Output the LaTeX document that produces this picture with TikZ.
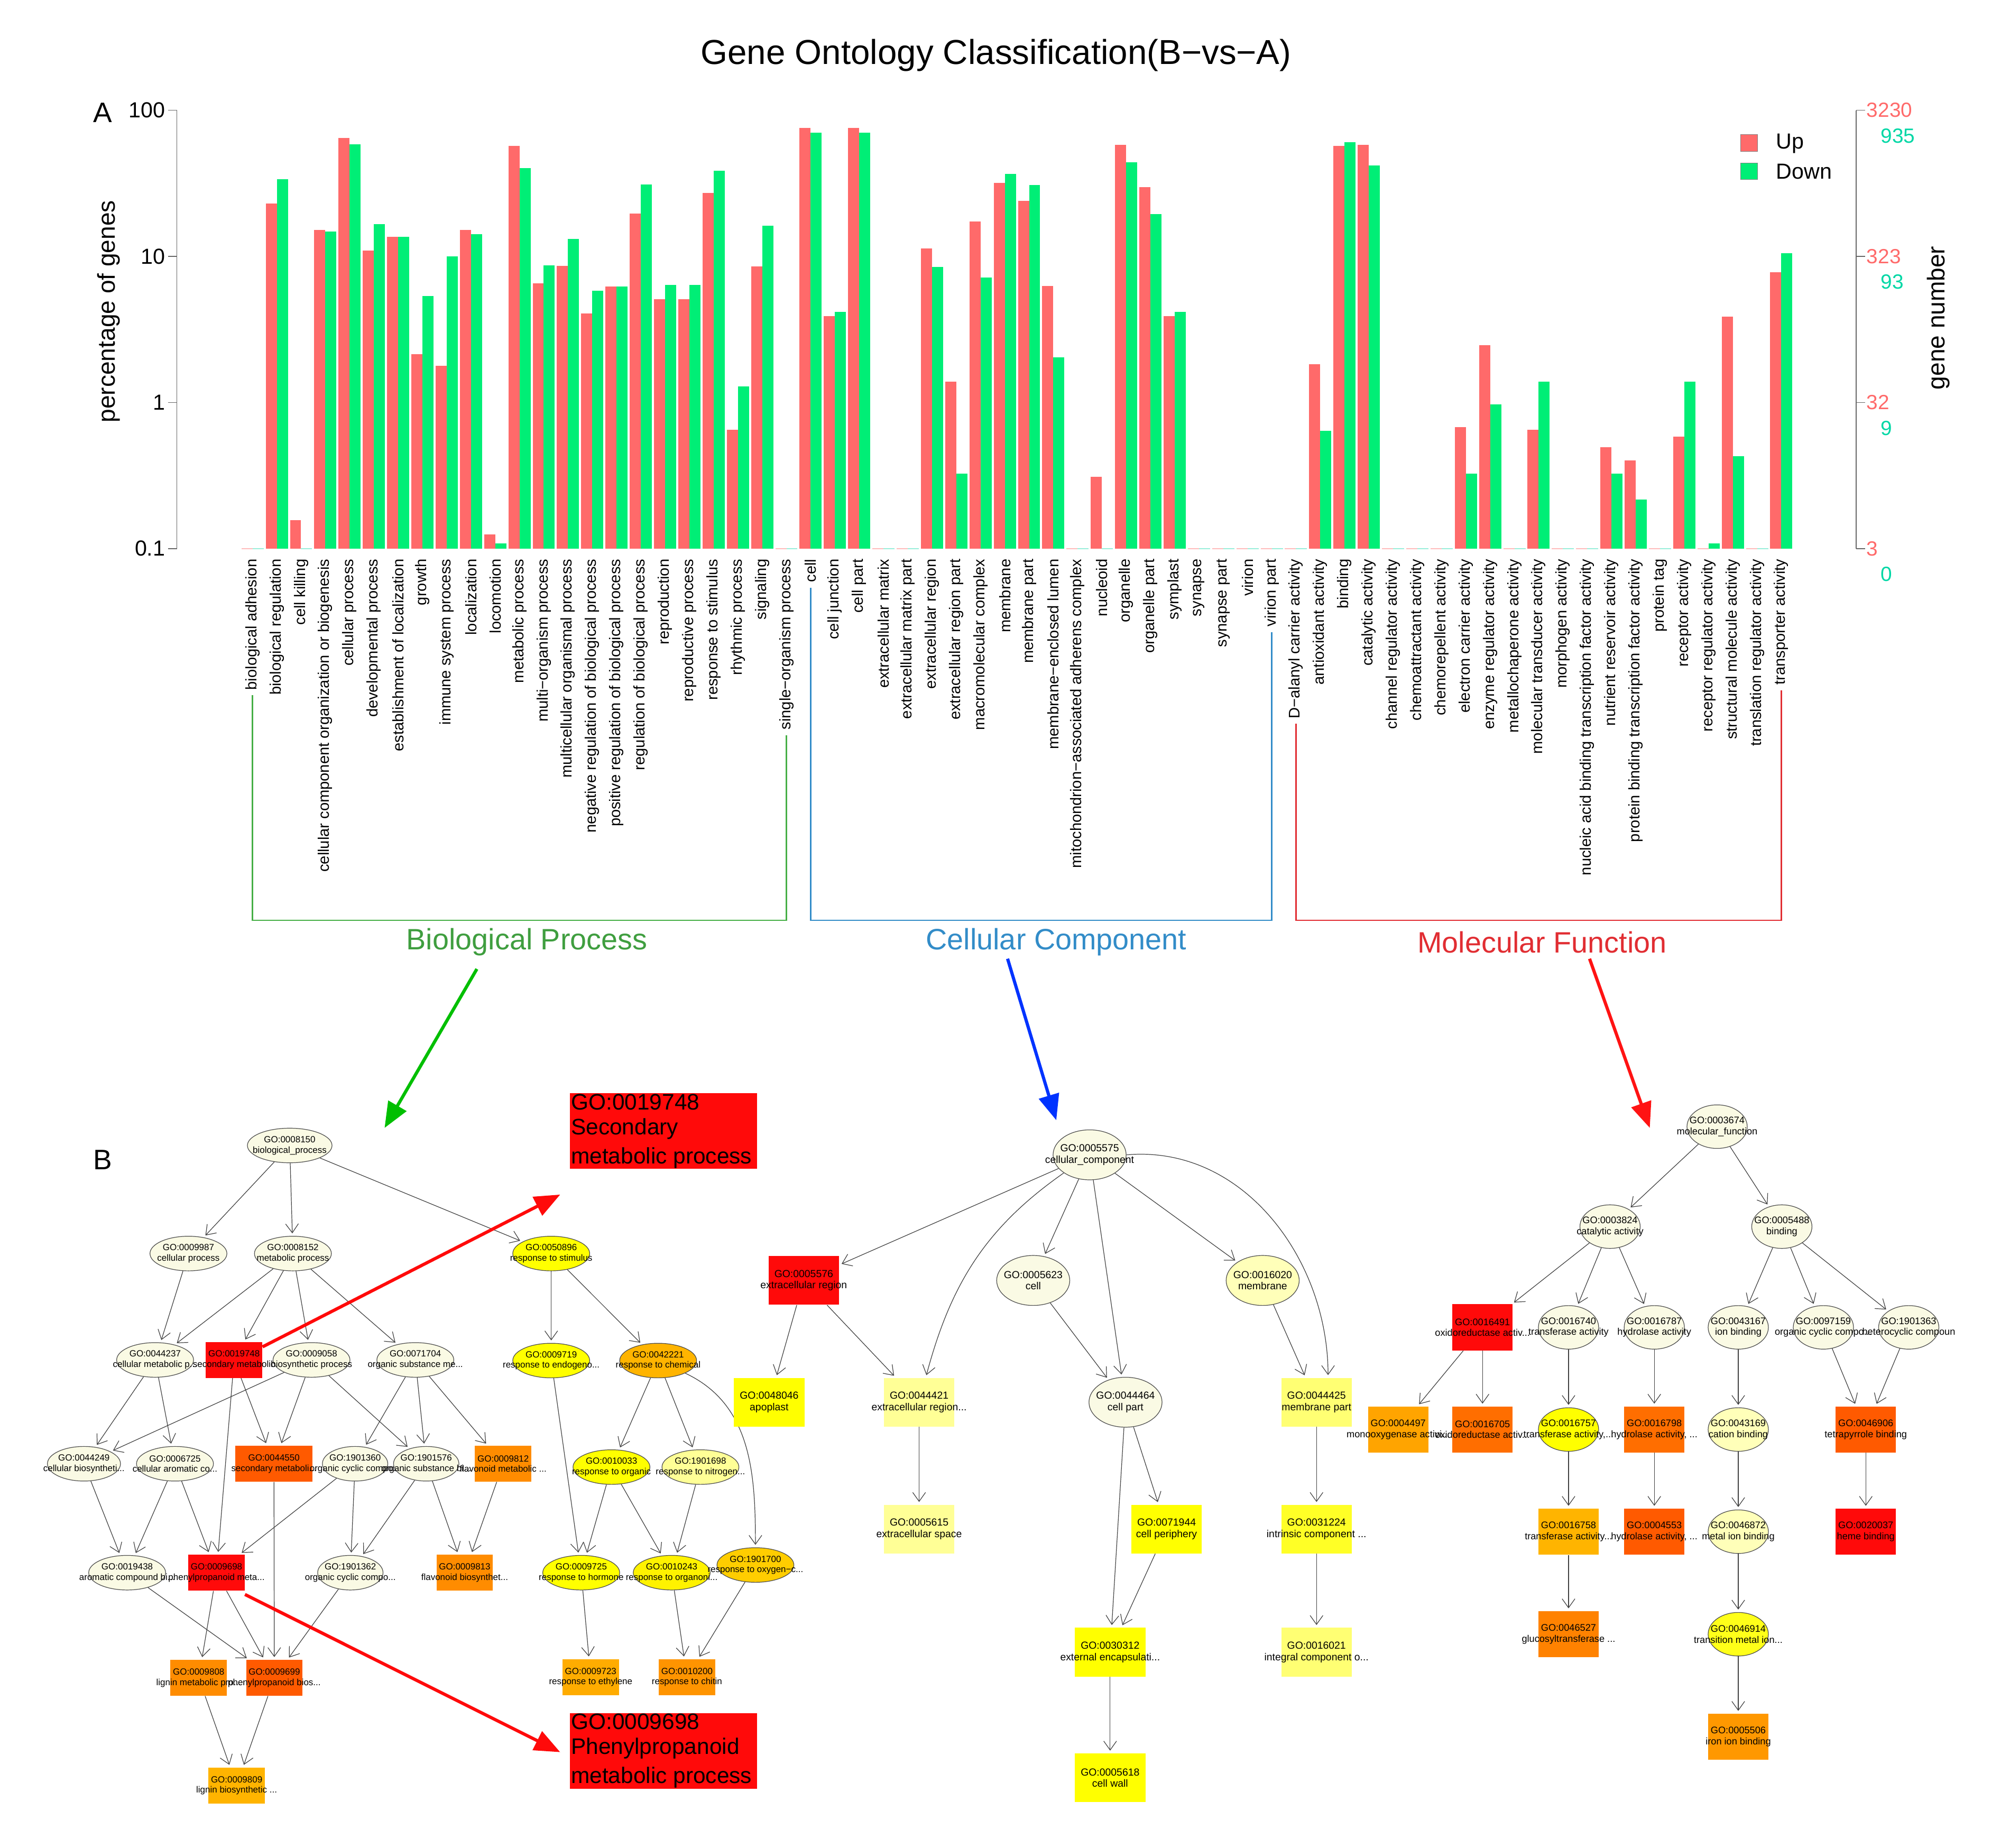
\documentclass[tikz,border=0pt]{standalone}
\usepackage{fontspec}
\setmainfont{Liberation Sans}
\usetikzlibrary{shapes.geometric,arrows.meta,calc}
\definecolor{upc}{RGB}{255,106,106}
\definecolor{dnc}{RGB}{0,238,118}
\definecolor{cyn}{RGB}{0,215,165}
\definecolor{bpg}{RGB}{70,175,70}
\definecolor{ccb}{RGB}{50,140,200}
\definecolor{mfr}{RGB}{225,45,50}
\definecolor{ivo}{RGB}{250,250,228}
\definecolor{yel}{RGB}{255,255,0}
\definecolor{lyel}{RGB}{255,255,150}
\definecolor{pyel}{RGB}{255,255,185}
\definecolor{gold}{RGB}{255,205,0}
\definecolor{lor}{RGB}{255,180,0}
\definecolor{ora}{RGB}{255,140,0}
\definecolor{ored}{RGB}{255,90,0}
\definecolor{rd}{RGB}{255,10,10}
\newcommand{\gn}[6]{\node[#3,fill=#4] (n#1) at (#2) {\makebox[0pt]{\shortstack{GO:#5\\#6}}};}
\tikzset{
 lab/.style={rotate=90,anchor=east,inner sep=0pt,font=\fontsize{12}{12}\selectfont},
 E/.style={ellipse,draw=black!70,line width=0.5pt,inner sep=0pt},
 R/.style={rectangle,draw=none,inner sep=0pt},
 bpE/.style={E,minimum width=60,minimum height=27,font=\fontsize{7}{8}\selectfont},
 bpR/.style={R,minimum width=44,minimum height=28,font=\fontsize{7}{8}\selectfont},
 ccE/.style={E,minimum width=57,minimum height=39,font=\fontsize{8}{9}\selectfont},
 ccR/.style={R,minimum width=55,minimum height=38,font=\fontsize{8}{9}\selectfont},
 mfE/.style={E,minimum width=47,minimum height=34,font=\fontsize{7.5}{8.5}\selectfont},
 mfR/.style={R,minimum width=47,minimum height=36,font=\fontsize{7.5}{8.5}\selectfont},
 e/.style={draw=black!75,line width=0.5pt,-{Straight Barb[length=7,width=10]},shorten >=2pt},
 big/.style={line width=2.5pt,-{Triangle[length=20,width=16]}},
 call/.style={rectangle,fill=rd,minimum width=146,minimum height=59,inner xsep=1pt,inner ysep=0pt,font=\fontsize{17.5}{21.5}\selectfont},
}
\newcommand{\cbox}[3]{\makebox[144pt][l]{\shortstack[l]{#1\\[3.5pt]#2\\[3.5pt]#3}}}
\begin{document}
\begin{tikzpicture}[x=1pt,y=-1pt]
\useasboundingbox (0,0) rectangle (1568,1441.4);
% title and axes
\node[font=\fontsize{27}{27}\selectfont] (title) at (777,43) {Gene Ontology Classification(B−vs−A)};
\node[font=\fontsize{22}{22}\selectfont] (A) at (80,88) {A};
\node[font=\fontsize{22}{22}\selectfont] (B) at (80,905) {B};
\draw[black!60,line width=0.6pt] (138,86) -- (138,428);
\foreach \y/\t in {86/100,200/10,314/1,428/0.1}{
  \draw[black!60,line width=0.6pt] (131,\y) -- (138,\y);
  \node[anchor=east,inner sep=0pt,font=\fontsize{17}{17}\selectfont] (yt\t) at (129,\y) {\t};
}
\node[rotate=90,font=\fontsize{19}{19}\selectfont] (ylab) at (85,243) {percentage of genes};
\draw[black!60,line width=0.6pt] (1448,86) -- (1448,428);
\foreach \y/\p/\c in {86/3230/935,200/323/93,314/32/9,428/3/0}{
  \draw[black!60,line width=0.6pt] (1448,\y) -- (1455,\y);
  \node[anchor=west,inner sep=0pt,text=upc,font=\fontsize{16}{16}\selectfont] (rp\p) at (1456,\y) {\p};
  \node[anchor=west,inner sep=0pt,text=cyn,font=\fontsize{16}{16}\selectfont] (rc\c) at (1467,\y+20) {\c};
}
\node[rotate=90,font=\fontsize{19}{19}\selectfont] (ylab2) at (1512,248) {gene number};
% legend
\fill[upc] (1358,105) rectangle (1371,118);
\draw[black!50,line width=0.3pt] (1358,105) rectangle (1371,118);
\node[anchor=west,font=\fontsize{17}{17}\selectfont] (lgu) at (1382,112) {Up};
\fill[dnc] (1358,127) rectangle (1371,140);
\draw[black!50,line width=0.3pt] (1358,127) rectangle (1371,140);
\node[anchor=west,font=\fontsize{17}{17}\selectfont] (lgd) at (1382,134) {Down};
% bars
\foreach \i/\r/\g in {0/0/0,1/22.9/33.7,2/0.155/0,3/15.2/14.8,4/64.7/58.5,5/11/16.6,6/13.6/13.6,7/2.14/5.37,8/1.78/10,9/15.1/14.2,10/0.125/0.108,11/57.2/40.3,12/6.53/8.69,13/8.6/13.2,14/4.07/5.81,15/6.22/6.22,16/19.7/31.1,17/5.09/6.4,18/5.09/6.4,19/27.2/38.5,20/0.648/1.29,21/8.5/16.2,22/0/0,
 23/75.5/70.4,24/3.9/4.18,25/75.5/70.4,26/0/0,27/0/0,28/11.3/8.47,29/1.39/0.325,30/17.3/7.18,31/31.9/36.6,32/23.9/30.8,33/6.26/2.03,34/0/0,35/0.31/0,36/57.9/44.2,37/29.7/19.5,38/3.9/4.18,39/0/0,40/0/0,41/0/0,42/0/0,
 43/0/0,44/1.82/0.64,45/57.2/60.4,46/57.9/41.9,47/0/0,48/0/0,49/0/0,50/0.68/0.325,51/2.46/0.97,52/0/0,53/0.65/1.39,54/0/0,55/0/0,56/0.494/0.325,57/0.40/0.216,58/0/0,59/0.586/1.39,60/0/0.108,61/3.86/0.43,62/0/0,63/7.78/10.5}{
  \pgfmathsetmacro\xc{197+18.93*\i}
  \ifdim\r pt>0pt \fill[upc] (\xc-8.65,428) rectangle (\xc,{428-114*(log10(\r)+1)});
  \else \draw[upc!45,line width=1pt] (\xc-8.65,428) -- (\xc,428); \fi
  \ifdim\g pt>0pt \fill[dnc] (\xc,428) rectangle (\xc+8.65,{428-114*(log10(\g)+1)});
  \else \draw[cyn!40,line width=1pt] (\xc,428) -- (\xc+8.65,428); \fi
}
% category labels
\foreach \t [count=\k from 0] in {biological adhesion,biological regulation,cell killing,cellular component organization or biogenesis,cellular process,developmental process,establishment of localization,growth,immune system process,localization,locomotion,metabolic process,multi−organism process,multicellular organismal process,negative regulation of biological process,positive regulation of biological process,regulation of biological process,reproduction,reproductive process,response to stimulus,rhythmic process,signaling,single−organism process,cell,cell junction,cell part,extracellular matrix,extracellular matrix part,extracellular region,extracellular region part,macromolecular complex,membrane,membrane part,membrane−enclosed lumen,mitochondrion−associated adherens complex,nucleoid,organelle,organelle part,symplast,synapse,synapse part,virion,virion part,D−alanyl carrier activity,antioxidant activity,binding,catalytic activity,channel regulator activity,chemoattractant activity,chemorepellent activity,electron carrier activity,enzyme regulator activity,metallochaperone activity,molecular transducer activity,morphogen activity,nucleic acid binding transcription factor activity,nutrient reservoir activity,protein binding transcription factor activity,protein tag,receptor activity,receptor regulator activity,structural molecule activity,translation regulator activity,transporter activity}{
  \node[lab] (L\k) at ({197+18.93*\k},436) {\t};
}
% brackets
\draw[bpg,line width=1pt] ($(L0.west)+(0,4)$) |- (L22.west |- 0,718) -- ($(L22.west)+(0,4)$);
\draw[ccb,line width=1pt] ($(L23.west)+(0,4)$) |- (L42.west |- 0,718) -- ($(L42.west)+(0,4)$);
\draw[mfr,line width=1pt] ($(L43.west)+(0,4)$) |- (L63.west |- 0,718) -- ($(L63.west)+(0,4)$);
\node[text=bpg!90!black,font=\fontsize{23}{23}\selectfont] (sBP) at (411,735) {Biological Process};
\node[text=ccb,font=\fontsize{23}{23}\selectfont] (sCC) at (824,735) {Cellular Component};
\node[text=mfr,font=\fontsize{23}{23}\selectfont] (sMF) at (1203,735) {Molecular Function};
\coordinate (gA) at (300,880); \coordinate (bA) at (824,874); \coordinate (rA) at (1287,880);
\draw[big,draw=green!75!black,-{Triangle[length=20,width=16,fill=green!75!black]}] (372,756) -- (gA);
\draw[big,draw=blue!80!cyan,-{Triangle[length=20,width=16,fill=blue!80!cyan]}] (786,748) -- (bA);
\draw[big,draw=red!90!pink,-{Triangle[length=20,width=16,fill=red!90!pink]}] (1240,748) -- (rA);
% ===== BP graph =====
\gn{8150}{226,893.7}{bpE,minimum width=66}{ivo}{0008150}{biological\_process}
\gn{9987}{147,978}{bpE}{ivo}{0009987}{cellular process}
\gn{8152}{228.5,978}{bpE}{ivo}{0008152}{metabolic process}
\gn{50896}{430,978}{bpE}{yel}{0050896}{response to stimulus}
\gn{44237}{121,1061}{bpE}{ivo}{0044237}{cellular metabolic p...}
\gn{9058}{243,1061}{bpE}{ivo}{0009058}{biosynthetic process}
\gn{19748}{182.6,1061}{bpR}{rd}{0019748}{secondary metabolic}
\gn{71704}{324,1061}{bpE}{ivo}{0071704}{organic substance me...}
\gn{9719}{430,1061.5}{bpE}{yel}{0009719}{response to endogeno...}
\gn{42221}{513.4,1061.5}{bpE}{lor}{0042221}{response to chemical}
\gn{44249}{65.5,1142}{bpE,minimum width=57}{ivo}{0044249}{cellular biosyntheti...}
\gn{6725}{136.5,1142}{bpE}{ivo}{0006725}{cellular aromatic co...}
\gn{44550}{213.7,1142}{bpR,minimum width=60}{ored}{0044550}{secondary metaboli...}
\gn{1901360}{277,1142}{bpE,minimum width=51}{ivo}{1901360}{organic cyclic compo...}
\gn{1901576}{332.5,1142}{bpE,minimum width=51}{ivo}{1901576}{organic substance bi...}
\gn{9812}{392.5,1142}{bpR}{ora}{0009812}{flavonoid metabolic ...}
\gn{10033}{477,1144.6}{bpE}{yel}{0010033}{response to organic}
\gn{1901698}{546.4,1144.6}{bpE}{lyel}{1901698}{response to nitrogen...}
\gn{19438}{99.2,1227}{bpE}{ivo}{0019438}{aromatic compound bi...}
\gn{9698}{168.9,1227}{bpR}{rd}{0009698}{phenylpropanoid meta...}
\gn{1901362}{273.3,1227}{bpE,minimum width=51}{ivo}{1901362}{organic cyclic compo...}
\gn{9813}{362.5,1227}{bpR}{ora}{0009813}{flavonoid biosynthet...}
\gn{9725}{453.4,1227}{bpE}{yel}{0009725}{response to hormone}
\gn{10243}{524,1227}{bpE}{yel!90!orange}{0010243}{response to organoni...}
\gn{1901700}{589.3,1221}{bpE}{gold}{1901700}{response to oxygen−c...}
\gn{9808}{155,1309}{bpR}{ora}{0009808}{lignin metabolic pro...}
\gn{9699}{214,1309}{bpR}{ored}{0009699}{phenylpropanoid bios...}
\gn{9723}{460.8,1308.5}{bpR}{lor!80!ora}{0009723}{response to ethylene}
\gn{10200}{535.9,1308.5}{bpR}{ora!80!lor}{0010200}{response to chitin}
\gn{9809}{184.6,1393}{bpR}{lor}{0009809}{lignin biosynthetic ...}
\foreach \a/\b in {8150/9987,8150/8152,8150/50896,9987/44237,8152/44237,8152/19748,8152/9058,8152/71704,50896/9719,50896/42221,44237/44249,44237/6725,19748/44550,19748/9698,9058/44249,9058/44550,9058/1901576,71704/1901360,71704/1901576,71704/9812,44249/19438,6725/19438,6725/9698,1901360/9698,1901360/1901362,1901576/1901362,1901576/9813,9812/9813,44550/9699,9698/9808,9698/9699,19438/9699,1901362/9699,9808/9809,9699/9809,9719/9725,42221/10033,42221/1901698,10033/9725,10033/10243,1901698/10243,9725/9723,10243/10200,1901700/10200}
  {\draw[e] (n\a) -- (n\b);}
\draw[e] (n42221) to[out=-25,in=90] (n1901700);
% callouts
\node[call] (c1) at (517.5,882.5) {\cbox{GO:0019748}{Secondary}{metabolic process}};
\node[call] (c2) at (517.5,1366) {\cbox{GO:0009698}{Phenylpropanoid}{metabolic process}};
\coordinate (c1a) at (437,932); \coordinate (c2a) at (437,1367);
\draw[big,draw=rd,-{Triangle[length=20,width=16,fill=rd]}] (n19748.north east) ++(0,4) -- (c1a);
\draw[big,draw=rd,-{Triangle[length=20,width=16,fill=rd]}] (n9698.east) ++(0,17) -- (c2a);
% ===== CC graph =====
\gn{5575}{850,901}{ccE}{ivo}{0005575}{cellular\_component}
\gn{5576}{627,999}{ccR}{rd}{0005576}{extracellular region}
\gn{5623}{806,999}{ccE}{ivo}{0005623}{cell}
\gn{16020}{985,999}{ccE}{pyel}{0016020}{membrane}
\gn{48046}{600,1094}{ccR}{yel}{0048046}{apoplast}
\gn{44421}{717,1094}{ccR}{lyel}{0044421}{extracellular region...}
\gn{44464}{878,1094}{ccE}{ivo}{0044464}{cell part}
\gn{44425}{1027,1094}{ccR}{yel!55}{0044425}{membrane part}
\gn{5615}{717,1193}{ccR}{lyel}{0005615}{extracellular space}
\gn{71944}{910,1193}{ccR}{yel}{0071944}{cell periphery}
\gn{31224}{1027,1193}{ccR}{yel!85}{0031224}{intrinsic component ...}
\gn{30312}{866,1289}{ccR}{yel}{0030312}{external encapsulati...}
\gn{16021}{1027,1289}{ccR}{yel!55}{0016021}{integral component o...}
\gn{5618}{866,1387}{ccR}{yel}{0005618}{cell wall}
\foreach \a/\b in {5575/5576,5575/5623,5575/44464,5575/16020,5576/48046,5576/44421,5623/44464,16020/44425,44421/5615,44464/30312,44464/71944,71944/30312,44425/31224,31224/16021,30312/5618}
  {\draw[e] (n\a) -- (n\b);}
\draw[e] (n5575) to[out=215,in=75] (n44421);
\draw[e] (n5575.east) to[out=5,in=90] ([xshift=9pt]n44425.north);
% ===== MF graph =====
\gn{3674}{1339.5,879}{mfE}{ivo}{0003674}{molecular\_function}
\gn{3824}{1256,957}{mfE}{ivo}{0003824}{catalytic activity}
\gn{5488}{1390,957}{mfE}{ivo}{0005488}{binding}
\gn{16491}{1156.5,1035.6}{mfR}{rd}{0016491}{oxidoreductase activ...}
\gn{16740}{1223.6,1035.6}{mfE}{ivo}{0016740}{transferase activity}
\gn{16787}{1290.5,1035.6}{mfE}{ivo}{0016787}{hydrolase activity}
\gn{43167}{1356,1035.6}{mfE}{ivo}{0043167}{ion binding}
\gn{97159}{1422.4,1035.6}{mfE}{ivo}{0097159}{organic cyclic compo...}
\gn{1901363}{1489,1035.6}{mfE}{ivo}{1901363}{heterocyclic compoun}
\gn{4497}{1090.7,1115.3}{mfR}{lor!60!ora}{0004497}{monooxygenase activi...}
\gn{16705}{1156.5,1115.3}{mfR}{ored!60!ora}{0016705}{oxidoreductase activ...}
\gn{16757}{1223.6,1115.3}{mfE}{yel}{0016757}{transferase activity,...}
\gn{16798}{1290.5,1115.3}{mfR}{ored!60!ora}{0016798}{hydrolase activity, ...}
\gn{43169}{1356,1115.3}{mfE}{pyel}{0043169}{cation binding}
\gn{46906}{1455.5,1115.3}{mfR}{ored}{0046906}{tetrapyrrole binding}
\gn{16758}{1223.6,1195}{mfR}{lor}{0016758}{transferase activity...}
\gn{4553}{1290.5,1195}{mfR}{ored}{0004553}{hydrolase activity, ...}
\gn{46872}{1356,1195}{mfE}{pyel}{0046872}{metal ion binding}
\gn{20037}{1455.5,1195}{mfR}{rd}{0020037}{heme binding}
\gn{46527}{1223.6,1275}{mfR}{ora!80!ored}{0046527}{glucosyltransferase ...}
\gn{46914}{1356,1275}{mfE}{yel!90!white}{0046914}{transition metal ion...}
\gn{5506}{1356,1355}{mfR}{ora!70!lor}{0005506}{iron ion binding}
\foreach \a/\b in {3674/3824,3674/5488,3824/16491,3824/16740,3824/16787,5488/43167,5488/97159,5488/1901363,16491/4497,16491/16705,16740/16757,16787/16798,43167/43169,97159/46906,1901363/46906,16757/16758,16798/4553,43169/46872,46906/20037,16758/46527,46872/46914,46914/5506}
  {\draw[e] (n\a) -- (n\b);}
\end{tikzpicture}
\end{document}
